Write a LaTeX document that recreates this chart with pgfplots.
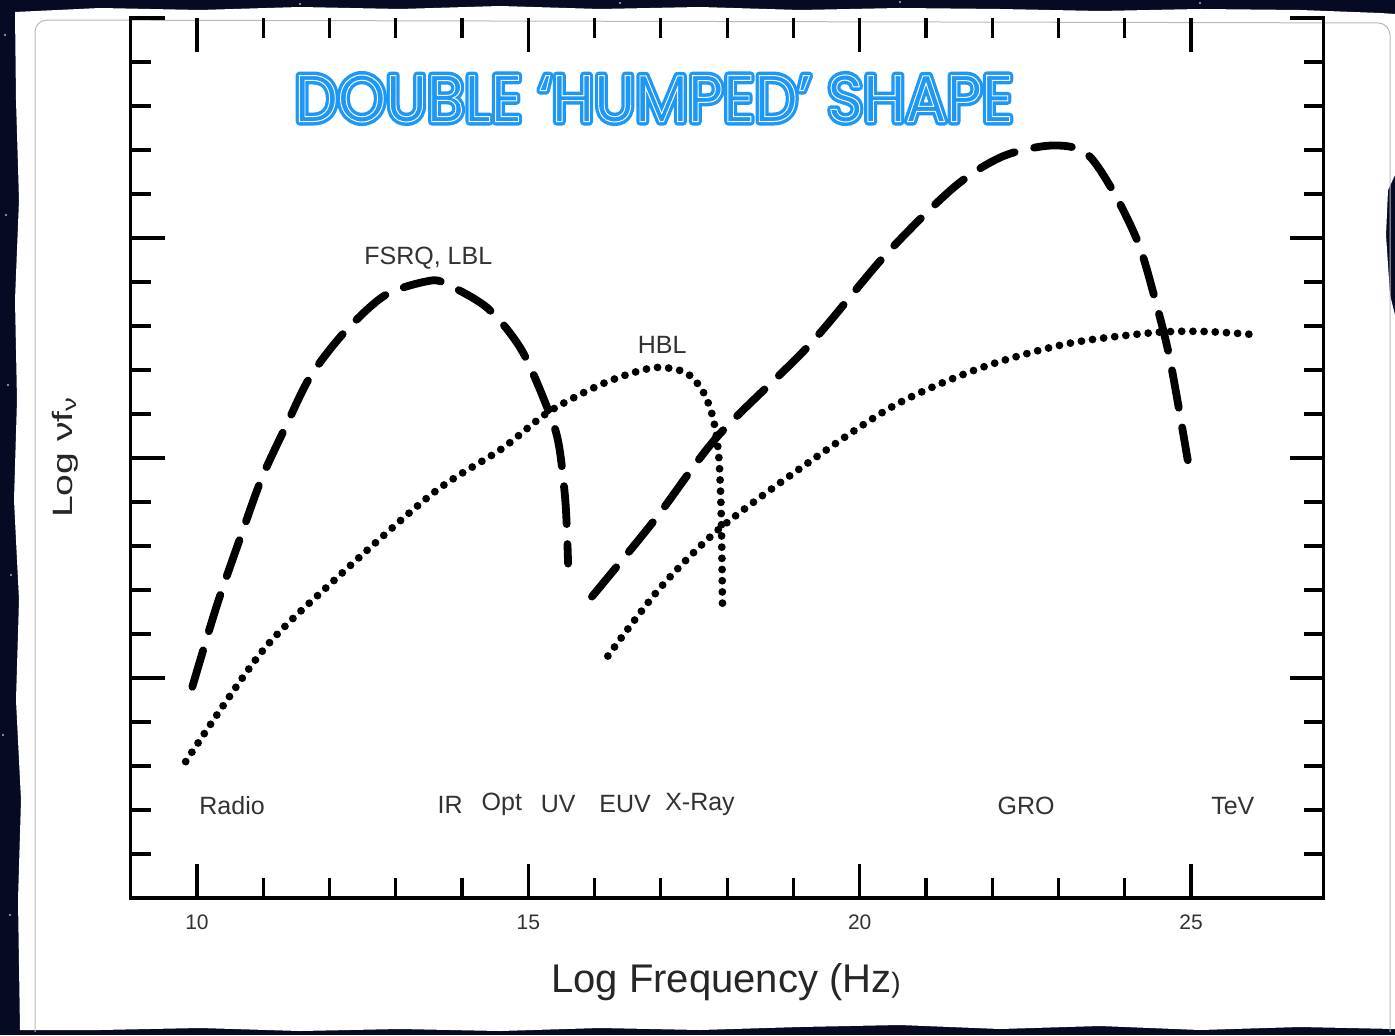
\documentclass[border=0pt]{standalone}
\usepackage{pgfplots}
\pgfplotsset{compat=1.18}
\usepackage{graphicx}
\usepackage{fontspec}
\setmainfont{Liberation Sans}
\newfontfamily\titlefont{Poppins}
\definecolor{space}{RGB}{6,10,34}
\definecolor{titleblue}{RGB}{30,152,246}
\definecolor{labelgray}{RGB}{50,50,50}

\newcommand\titletext{DOUBLE ‘HUMPED’ SHAPE}

\begin{document}
\begin{tikzpicture}
% ---- backdrop: dark sky and a torn sheet of paper
\begin{scope}[x=0.5pt,y=0.5pt]
\path[use as bounding box] (0,0) rectangle (1395,1035);
\fill[space] (0,0) rectangle (1395,1035);
\foreach \sx/\sy in {5/1000,8/650,3/300,10/120,6/820,300/1031,620/1032,900/1033,1200/1032,1391/700,1392/520,11/460}
  \fill[white!70!space] (\sx,\sy) circle (1.2);
\fill[white] (15,1023) -- (100,1027) -- (200,1025) -- (300,1028) -- (400,1026) -- (500,1029)
  -- (600,1026) -- (700,1028) -- (800,1025) -- (900,1027) -- (1000,1026) -- (1100,1024)
  -- (1200,1026) -- (1300,1025) -- (1380,1022) -- (1395,1021)
  -- (1395,860) -- (1388,845) -- (1386,800) -- (1390,740) -- (1395,720) -- (1395,6)
  -- (1300,8) -- (1200,5) -- (1100,9) -- (1000,6) -- (900,10) -- (800,8) -- (700,5)
  -- (600,7) -- (500,4) -- (400,6) -- (300,4) -- (200,7) -- (100,5) -- (20,5)
  -- (18,135) -- (21,235) -- (16,335) -- (19,435) -- (14,535) -- (17,635) -- (15,735)
  -- (19,835) -- (16,935) -- cycle;
\draw[gray!55, line width=0.5pt, rounded corners=6] (35,3) -- (35,1015) -- (1390,1012) -- (1390,3);
\end{scope}

\begin{axis}[
  at={(65.35pt,68.5pt)}, anchor=south west,
  scale only axis, width=596.45pt, height=440pt,
  xmin=9, xmax=27, ymin=0, ymax=4,
  axis line style={draw=none},
  xtick={10,15,20,25}, xticklabels={10,15,20,25},
  minor x tick num=4,
  ytick={0,1,2,3,4}, yticklabels={}, minor y tick num=4,
  tick align=inside,
  major tick length=17pt, minor tick length=10pt,
  tick style={black, line width=1.6pt},
  xticklabel style={font=\fontsize{10.5}{11}\selectfont, text=labelgray, yshift=-5pt},
  clip=false,
]
\draw[line width=1.7pt, line cap=rect] (rel axis cs:0,1) -- (rel axis cs:0,0)
  -- (rel axis cs:1,0) -- (rel axis cs:1,1);

% FSRQ / LBL: synchrotron hump
\addplot[black, line width=3.9pt, line cap=round, dash pattern=on 19pt off 10pt, smooth]
  coordinates {(9.93,0.96) (10.30,1.33) (10.68,1.66) (10.98,1.91) (11.35,2.15) (11.71,2.37)
  (12.22,2.57) (12.84,2.74) (13.50,2.805) (13.77,2.79) (14.39,2.68) (14.90,2.49)
  (15.31,2.21) (15.46,2.06) (15.56,1.80) (15.60,1.52)};
% FSRQ / LBL: inverse Compton hump
\addplot[black, line width=3.9pt, line cap=round, dash pattern=on 19pt off 10pt, smooth]
  coordinates {(15.96,1.37) (16.91,1.72) (17.86,2.10) (19.23,2.51) (20.38,2.92) (21.42,3.23)
  (22.15,3.37) (22.87,3.42) (23.40,3.39) (23.81,3.22) (24.20,2.98) (24.44,2.74)
  (24.68,2.45) (24.95,1.99)};
% HBL: synchrotron hump
\addplot[black, line width=3.9pt, line cap=round, dash pattern=on 0pt off 5.6pt, smooth]
  coordinates {(9.83,0.62) (10.98,1.12) (12.02,1.43) (13.56,1.84) (14.59,2.04) (15.31,2.21)
  (16.14,2.34) (16.88,2.41) (17.36,2.39) (17.62,2.31) (17.78,2.19) (17.87,2.02)
  (17.91,1.75) (17.93,1.32)};
% HBL: inverse Compton hump
\addplot[black, line width=3.9pt, line cap=round, dash pattern=on 0pt off 5.6pt, smooth]
  coordinates {(16.20,1.10) (16.99,1.41) (17.89,1.68) (19.23,1.98) (20.53,2.24) (21.83,2.41)
  (23.14,2.52) (24.44,2.57) (25.20,2.575) (25.99,2.56)};

\begin{scope}[every node/.style={font=\fontsize{12.5}{13}\selectfont, text=labelgray}]
\node at (axis cs:13.49,2.91) {FSRQ, LBL};
\node at (axis cs:17.02,2.514) {HBL};
\node at (axis cs:10.53,0.42) {Radio};
\node at (axis cs:13.82,0.425) {IR};
\node at (axis cs:14.60,0.425) {Opt};
\node at (axis cs:15.45,0.425) {UV};
\node at (axis cs:16.46,0.425) {EUV};
\node at (axis cs:17.59,0.425) {X-Ray};
\node at (axis cs:22.51,0.42) {GRO};
\node at (axis cs:25.63,0.42) {TeV};
\end{scope}
\end{axis}

% ---- axis titles and heading
\begin{scope}[x=0.5pt,y=0.5pt]
\node[anchor=base, inner sep=0, font=\fontsize{20}{20}\selectfont, text=black!85]
  at (726,43) {Log Frequency (Hz\fontsize{14}{14}\selectfont)};
\node[anchor=base, rotate=90, inner sep=0, font=\fontsize{14}{14}\selectfont, text=black!85]
  at (72,578) {\scalebox{1.4}[1]{Log νf\textsubscript{ν}}};
\node[inner sep=0] at (654,936.5) {\titlefont\fontsize{33}{33}\selectfont
  \scalebox{0.925}[1]{\color{titleblue}\special{pdf:literal direct 1 j 4 w 2 Tr}\titletext\special{pdf:literal direct 0 Tr}}};
\node[inner sep=0] at (654,936.5) {\titlefont\fontsize{33}{33}\selectfont
  \scalebox{0.925}[1]{\color{titleblue}\special{pdf:literal direct 1 1 1 RG 0.5 w 2 Tr}\titletext\special{pdf:literal direct 0 Tr}}};
\end{scope}
\end{tikzpicture}
\end{document}
